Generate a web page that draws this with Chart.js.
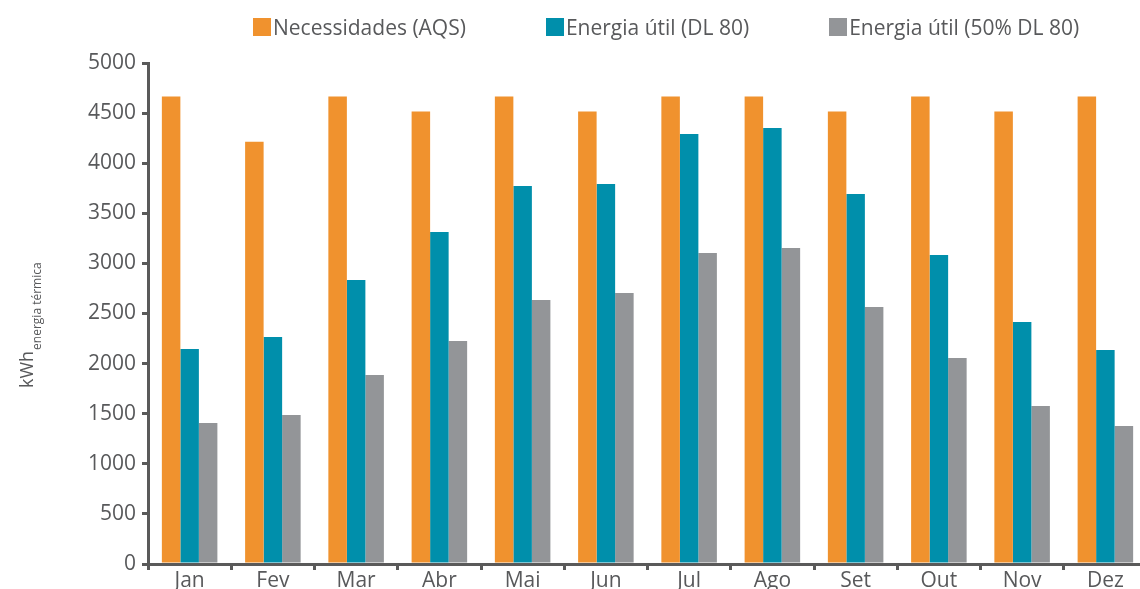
<!DOCTYPE html>
<html>
<head>
<meta charset="utf-8">
<script src="https://cdn.jsdelivr.net/npm/chart.js@4.4.1/dist/chart.umd.min.js"></script>
<style>
  html, body { margin: 0; padding: 0; background: #fff; overflow: hidden; }
  #wrap { position: relative; width: 1140px; height: 589px; overflow: hidden; }
  #chart { position: absolute; left: 0; top: 0; }
  #legend {
    position: absolute; left: 253px; top: 13px;
    display: flex; gap: 80px;
    font-family: "Open Sans", sans-serif; font-size: 21px; color: #58595b;
  }
  #legend .item { display: flex; align-items: center; white-space: nowrap; }
  #legend .box { width: 18px; height: 18px; margin-right: 2px; }
</style>
</head>
<body>
<div id="wrap">
  <canvas id="chart" width="1150" height="600"></canvas>
  <div id="legend"></div>
</div>
<script>
const months = ["Jan", "Fev", "Mar", "Abr", "Mai", "Jun", "Jul", "Ago", "Set", "Out", "Nov", "Dez"];
const necessidades = [4665, 4215, 4665, 4515, 4665, 4515, 4665, 4665, 4515, 4665, 4515, 4665];
const energiaDL80 = [2146, 2265, 2834, 3313, 3772, 3792, 4291, 4351, 3693, 3084, 2415, 2136];
const energia50 = [1407, 1487, 1886, 2226, 2635, 2705, 3104, 3154, 2565, 2056, 1577, 1377];
const seriesNames = ["Necessidades (AQS)", "Energia útil (DL 80)", "Energia útil (50% DL 80)"];
const colors = ["#f0922e", "#008fab", "#939598"];

const axisColor = "#5a5a5a";
const textColor = "#58595b";
const font = { family: "Open Sans", size: 21 };

// y axis title with subscript, drawn by hand
const yTitle = {
  id: "yTitle",
  afterDraw(chart) {
    const ctx = chart.ctx;
    ctx.save();
    ctx.translate(33, 388);
    ctx.rotate(-Math.PI / 2);
    ctx.fillStyle = textColor;
    ctx.textBaseline = "alphabetic";
    ctx.textAlign = "left";
    ctx.font = "18px 'Open Sans'";
    ctx.fillText("kWh", 0, 0);
    const w = ctx.measureText("kWh").width;
    ctx.font = "12px 'Open Sans'";
    ctx.fillText("energia térmica", w + 1, 8);
    ctx.restore();
  }
};

const chart = new Chart(document.getElementById("chart"), {
  type: "bar",
  data: {
    labels: months,
    datasets: [necessidades, energiaDL80, energia50].map((d, i) => ({
      label: seriesNames[i],
      data: d,
      backgroundColor: colors[i],
      categoryPercentage: 0.667,
      barPercentage: 1.0
    }))
  },
  options: {
    responsive: false,
    animation: false,
    layout: { padding: { top: 63, right: 3, left: 0, bottom: 0 } },
    plugins: {
      legend: { display: false },
      tooltip: { enabled: false }
    },
    scales: {
      x: {
        grid: { drawOnChartArea: false, color: axisColor, lineWidth: 3, tickLength: 6 },
        border: { color: axisColor, width: 3 },
        ticks: { color: textColor, font, padding: -2 },
        afterFit(s) { s.height = 36; }
      },
      y: {
        min: 0,
        max: 5000,
        ticks: { stepSize: 500, color: textColor, font, padding: 6, callback: v => String(v) },
        grid: { drawOnChartArea: false, color: axisColor, lineWidth: 3, tickLength: 6 },
        border: { color: axisColor, width: 3 },
        afterFit(s) { s.width = 148; }
      }
    }
  },
  plugins: [yTitle]
});

const legend = document.getElementById("legend");
seriesNames.forEach((name, i) => {
  const item = document.createElement("div");
  item.className = "item";
  item.innerHTML = `<span class="box" style="background:${colors[i]}"></span><span>${name}</span>`;
  legend.appendChild(item);
});
</script>
</body>
</html>
